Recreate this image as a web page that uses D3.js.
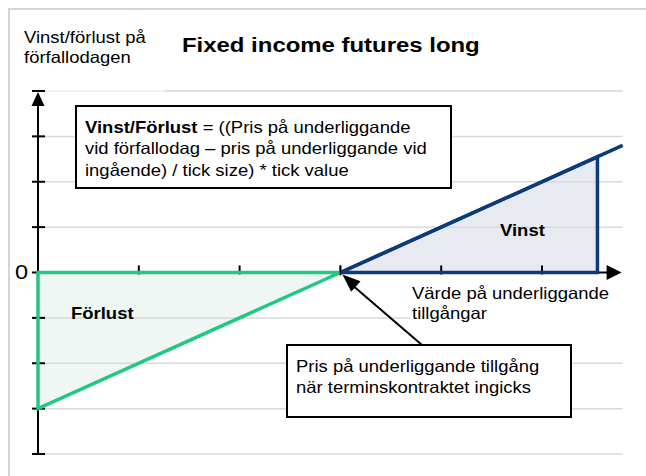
<!DOCTYPE html>
<html>
<head>
<meta charset="utf-8">
<script src="https://cdn.jsdelivr.net/npm/d3@7"></script>
<style>
  body { margin: 0; background: #fff; }
  text { font-family: "Liberation Sans", Arial, sans-serif; fill: #000; }
</style>
</head>
<body>
<svg width="646" height="476"></svg>
<script>
// data (units: x = underlying value, y = profit/loss)
var xTicks = [0, 1, 2, 3, 4, 5]
var yTicks = [-4, -3, -2, -1, 0, 1, 2, 3, 4]
var gridLevels = [-4, -3, -2, -1, 1, 2, 3, 4]
var strike = 3
var xAxisEnd = 5.8
var lossArea = [[0, 0], [0, -3], [3, 0]]
var gainArea = [[3, 0], [5.55, 2.55], [5.55, 0]]
var payoffLine = [[3, 0], [5.8, 2.8]]

var svg = d3.select('svg')
var x = d3.scaleLinear().domain([0, 5]).range([38, 542])
var y = d3.scaleLinear().domain([-4, 4]).range([454, 91])
var sx = 1.12  // reference text is a bit wider than plain Arial

var line = d3.line().x(function(d) { return x(d[0]) }).y(function(d) { return y(d[1]) })

function label(x0, y0, str, size, weight, stretch) {
  return svg.append('text')
    .attr('transform', 'translate(' + x0 + ',' + y0 + ') scale(' + (stretch || sx) + ',1)')
    .style('font-size', size + 'px')
    .style('font-weight', weight || 'normal')
    .text(str)
}

// outer frame
svg.append('rect').attr('x', 9).attr('y', 9).attr('width', 700).attr('height', 520)
  .attr('fill', 'none').attr('stroke', '#d4d4d4').attr('stroke-width', 2)

// filled areas
svg.append('path').datum(lossArea).attr('d', line(lossArea) + 'Z')
  .attr('fill', '#eef7f3').attr('stroke', 'none')
svg.append('path').datum(gainArea).attr('d', line(gainArea) + 'Z')
  .attr('fill', '#e7eaf1').attr('stroke', 'none')

// grid lines
svg.selectAll('.grid').data(gridLevels).enter().append('line')
  .attr('class', 'grid')
  .attr('x1', x(0)).attr('x2', x(xAxisEnd))
  .attr('y1', function(d) { return y(d) }).attr('y2', function(d) { return y(d) })
  .attr('stroke', function(d) { return d === 4 ? '#ececec' : '#d9d9d9' })
  .attr('stroke-width', 1.5)
svg.append('line').attr('x1', 165).attr('x2', x(xAxisEnd)).attr('y1', y(4)).attr('y2', y(4))
  .attr('stroke', '#d9d9d9').attr('stroke-width', 1.5)

// white box behind x axis title
svg.append('rect').attr('x', 410).attr('y', 282).attr('width', 240).attr('height', 44).attr('fill', '#fff')

// axes
svg.append('line').attr('x1', x(0)).attr('x2', x(0)).attr('y1', y(-4)).attr('y2', y(4) + 4)
  .attr('stroke', '#000').attr('stroke-width', 2)
svg.append('path').attr('d', 'M' + x(0) + ',' + (y(4) + 1) + 'l-6.5,14h13Z').attr('fill', '#000')
svg.append('line').attr('x1', x(0)).attr('x2', x(xAxisEnd) - 6).attr('y1', y(0)).attr('y2', y(0))
  .attr('stroke', '#000').attr('stroke-width', 2)
svg.append('path').attr('d', 'M' + (x(xAxisEnd) - 1) + ',' + y(0) + 'l-15,-7.5v15Z').attr('fill', '#000')

svg.selectAll('.ytick').data(yTicks).enter().append('line')
  .attr('class', 'ytick')
  .attr('x1', x(0) - 6).attr('x2', x(0) + 7)
  .attr('y1', function(d) { return y(d) }).attr('y2', function(d) { return y(d) })
  .attr('stroke', '#000').attr('stroke-width', 2)
svg.selectAll('.xtick').data(xTicks.slice(1)).enter().append('line')
  .attr('class', 'xtick')
  .attr('x1', function(d) { return x(d) }).attr('x2', function(d) { return x(d) })
  .attr('y1', y(0) - 7).attr('y2', y(0) + 2)
  .attr('stroke', '#000').attr('stroke-width', 2)

// payoff outlines
svg.append('path').attr('d', line(lossArea) + 'Z')
  .attr('fill', 'none').attr('stroke', '#22c882').attr('stroke-width', 3.5).attr('stroke-linejoin', 'miter')
svg.append('path').attr('d', line(gainArea) + 'Z')
  .attr('fill', 'none').attr('stroke', '#0c3b7a').attr('stroke-width', 3.5)
svg.append('path').attr('d', line(payoffLine))
  .attr('fill', 'none').attr('stroke', '#0c3b7a').attr('stroke-width', 3.5)
svg.append('line').attr('x1', x(strike)).attr('x2', x(strike)).attr('y1', y(0) - 7).attr('y2', y(0) + 3)
  .attr('stroke', '#000').attr('stroke-width', 1.5)

// formula box
svg.append('rect').attr('x', 76).attr('y', 106).attr('width', 375).attr('height', 82)
  .attr('fill', '#fff').attr('stroke', '#000').attr('stroke-width', 2)
var f1 = label(85, 133, '', 16.5)
f1.append('tspan').style('font-weight', 'bold').text('Vinst/Förlust')
f1.append('tspan').text(' = ((Pris på underliggande')
label(85, 154, 'vid förfallodag – pris på underliggande vid', 16.5)
label(85, 176, 'ingående) / tick size) * tick value', 16.5)

// strike annotation
svg.append('rect').attr('x', 287).attr('y', 345).attr('width', 284).attr('height', 72)
  .attr('fill', '#fff').attr('stroke', '#000').attr('stroke-width', 2)
label(296, 372, 'Pris på underliggande tillgång', 16.5)
label(296, 393, 'när terminskontraktet ingicks', 16.5)
svg.append('line').attr('x1', 422).attr('y1', 345).attr('x2', x(strike) + 10).attr('y2', y(0) + 11)
  .attr('stroke', '#000').attr('stroke-width', 2)
svg.append('path')
  .attr('d', 'M0,0 L18,-7 L18,7 Z')
  .attr('transform', 'translate(' + (x(strike) + 2) + ',' + (y(0) + 2) + ') rotate(' +
    (Math.atan2(345 - y(0), 422 - x(strike)) * 180 / Math.PI) + ')')
  .attr('fill', '#000')

// texts
label(24, 43, 'Vinst/förlust på', 16.5)
label(24, 63, 'förfallodagen', 16.5)
label(182, 52, 'Fixed income futures long', 21, 'bold', 1.14)
label(15, 279, '0', 21)
label(412, 299, 'Värde på underliggande', 16.5)
label(412, 319, 'tillgångar', 16.5)
label(500, 236, 'Vinst', 16.5, 'bold')
label(71, 319, 'Förlust', 16.5, 'bold')
</script>
</body>
</html>
